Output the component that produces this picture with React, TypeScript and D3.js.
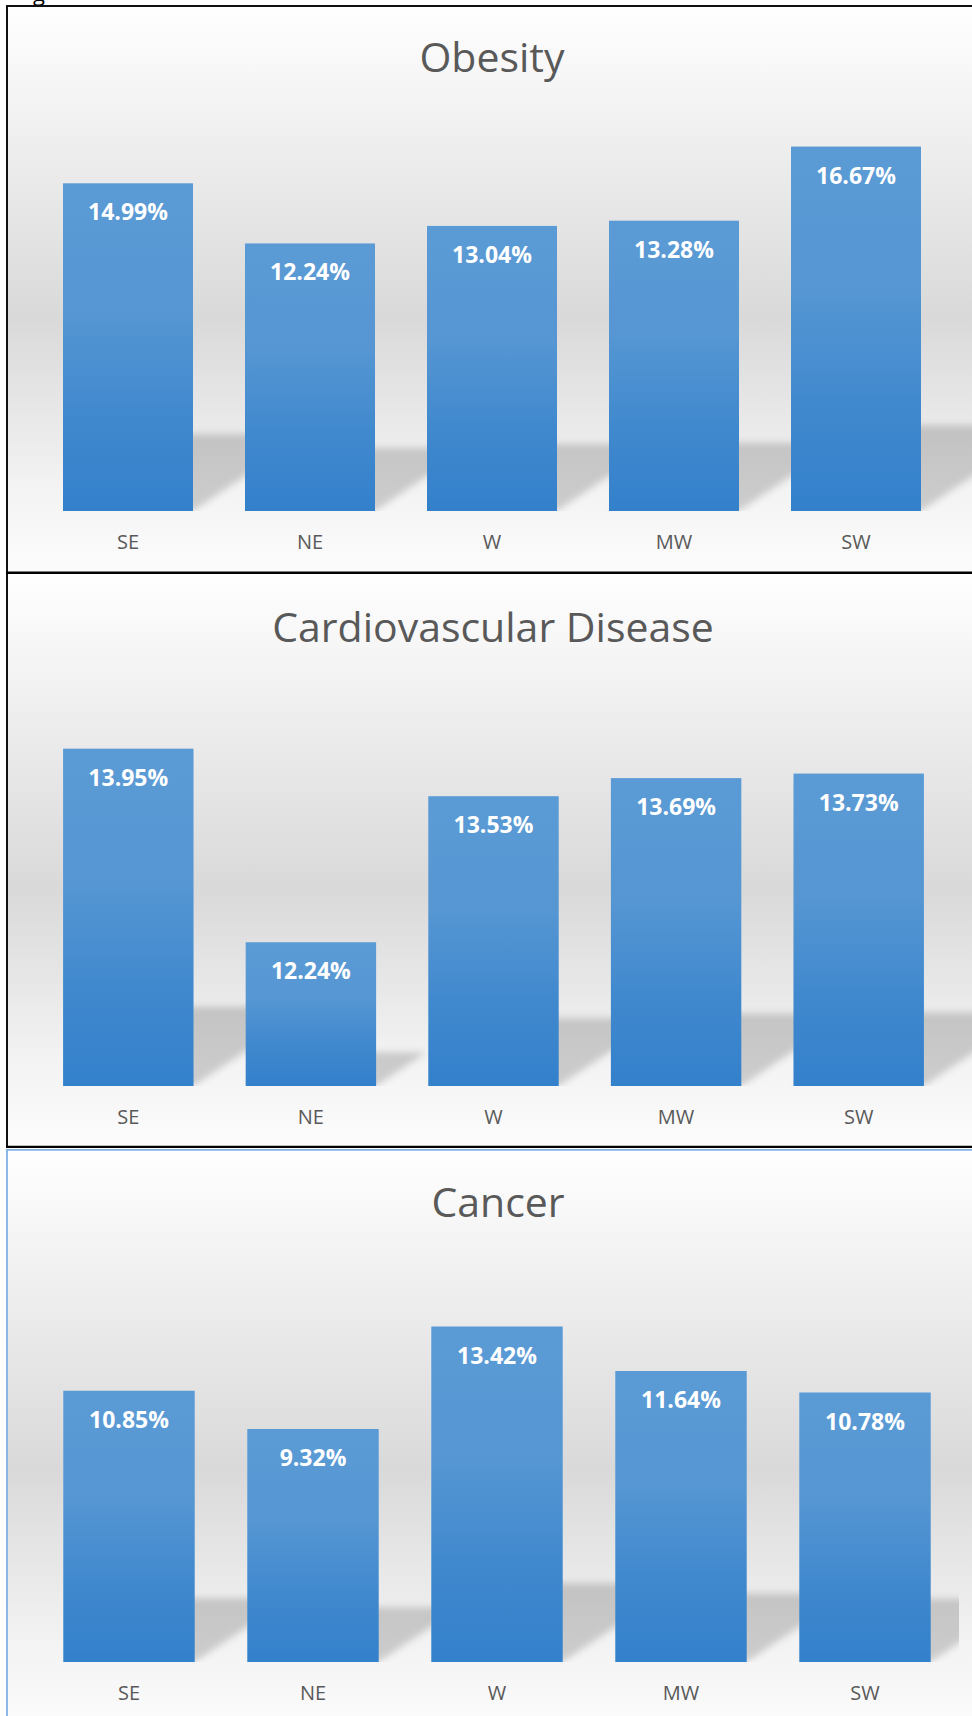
import React from "react";
import * as d3 from "d3";

const categories = ["SE", "NE", "W", "MW", "SW"];
const obesityValues = [14.99, 12.24, 13.04, 13.28, 16.67];
const cardioValues = [13.95, 12.24, 13.53, 13.69, 13.73];
const cancerValues = [10.85, 9.32, 13.42, 11.64, 10.78];
const titles = ["Obesity", "Cardiovascular Disease", "Cancer"];
const yDomains: [number, number][] = [
  [0, 18],
  [10.97, 14.47],
  [0, 16],
];
const seriesList = [obesityValues, cardioValues, cancerValues];

const layouts = [
  { top: 6, bottom: 572.5, plotL: 37, plotR: 947, shadowR: 972, base: 511, plotTop: 117.5, titleX: 492, titleY: 72 },
  { top: 573, bottom: 1147, plotL: 37, plotR: 950, shadowR: 972, base: 1086, plotTop: 689.8, titleX: 493, titleY: 642 },
  { top: 1150, bottom: 1730, plotL: 37, plotR: 957, shadowR: 959, base: 1662, plotTop: 1262, titleX: 498, titleY: 1217 },
];

const FONT = "'Open Sans', 'Noto Sans', sans-serif";

function Panel({ idx }: { idx: number }) {
  const L = layouts[idx];
  const values = seriesList[idx];
  const x = d3
    .scaleBand<string>()
    .domain(categories)
    .range([L.plotL, L.plotR])
    .paddingInner(2 / 7)
    .paddingOuter(1 / 7);
  const y = d3.scaleLinear().domain(yDomains[idx]).range([L.base, L.plotTop]);
  const fmt = d3.format(".2f");
  const clipId = `clip${idx}`;
  return (
    <g>
      <rect x={7} y={L.top} width={972 - 7} height={L.bottom - L.top} fill="url(#bgGrad)" />
      <clipPath id={clipId}>
        <rect x={L.plotL} y={L.plotTop - 50} width={L.shadowR - L.plotL} height={L.base - L.plotTop + 50} />
      </clipPath>
      <g clipPath={`url(#${clipId})`}>
        <g filter="url(#blur)">
          {values.map((v, i) => {
            const x0 = x(categories[i])!;
            const x1 = x0 + x.bandwidth();
            const h = L.base - y(v);
            const sh = 0.235 * h;
            const s = 0.35 * h;
            const pts = [
              [x0, L.base],
              [x1, L.base],
              [x1 + s, L.base - sh],
              [x0 + s, L.base - sh],
            ]
              .map((p) => p.join(","))
              .join(" ");
            return <polygon key={i} points={pts} fill="#000" fillOpacity={0.17} />;
          })}
        </g>
      </g>
      {values.map((v, i) => {
        const x0 = x(categories[i])!;
        return (
          <rect
            key={i}
            x={x0}
            y={y(v)}
            width={x.bandwidth()}
            height={L.base - y(v)}
            fill="url(#barGrad)"
          />
        );
      })}
      {values.map((v, i) => (
        <text
          key={i}
          x={x(categories[i])! + x.bandwidth() / 2}
          y={y(v) + 37}
          textAnchor="middle"
          fontFamily={FONT}
          fontWeight={700}
          fontSize={23}
          fill="#ffffff"
        >
          {fmt(v)}%
        </text>
      ))}
      {categories.map((c) => (
        <text
          key={c}
          x={x(c)! + x.bandwidth() / 2}
          y={L.base + 38}
          textAnchor="middle"
          fontFamily={FONT}
          fontSize={20}
          fill="#595959"
        >
          {c}
        </text>
      ))}
      <text
        x={L.titleX}
        y={L.titleY}
        textAnchor="middle"
        fontFamily={FONT}
        fontSize={41}
        fill="#595959"
      >
        {titles[idx]}
      </text>
    </g>
  );
}

export default function App() {
  return (
    <svg
      width={972}
      height={1716}
      style={{ position: "absolute", left: 0, top: 0, background: "#ffffff" }}
    >
      <defs>
        <linearGradient id="bgGrad" x1="0" y1="0" x2="0" y2="1">
          <stop offset="0" stopColor="#ffffff" />
          <stop offset="0.55" stopColor="#d9d9d9" />
          <stop offset="0.85" stopColor="#f3f3f3" />
          <stop offset="1" stopColor="#fcfcfc" />
        </linearGradient>
        <linearGradient id="barGrad" x1="0" y1="0" x2="0" y2="1">
          <stop offset="0" stopColor="#5b9bd5" />
          <stop offset="0.4" stopColor="#5596d3" />
          <stop offset="0.7" stopColor="#4189ce" />
          <stop offset="1" stopColor="#3380cb" />
        </linearGradient>
        <filter id="blur" x="-20%" y="-20%" width="140%" height="140%">
          <feGaussianBlur stdDeviation="3.5" />
        </filter>
      </defs>
      <rect x={0} y={0} width={972} height={1716} fill="#ffffff" />
      <text x={33} y={1} fontFamily={FONT} fontSize={22} fill="#000">
        g
      </text>
      {[0, 1, 2].map((i) => (
        <Panel key={i} idx={i} />
      ))}
      {/* borders */}
      <line x1={6} x2={972} y1={6} y2={6} stroke="#111" strokeWidth={2} />
      <line x1={7} x2={7} y1={5} y2={1148} stroke="#111" strokeWidth={2} />
      <line x1={6} x2={972} y1={572.8} y2={572.8} stroke="#000" strokeWidth={2.6} />
      <line x1={6} x2={972} y1={1146.8} y2={1146.8} stroke="#000" strokeWidth={2.2} />
      <line x1={6} x2={972} y1={1149.8} y2={1149.8} stroke="#7fb2e3" strokeWidth={1.8} />
      <line x1={7} x2={7} y1={1149} y2={1716} stroke="#7fb2e3" strokeWidth={1.8} />
    </svg>
  );
}
